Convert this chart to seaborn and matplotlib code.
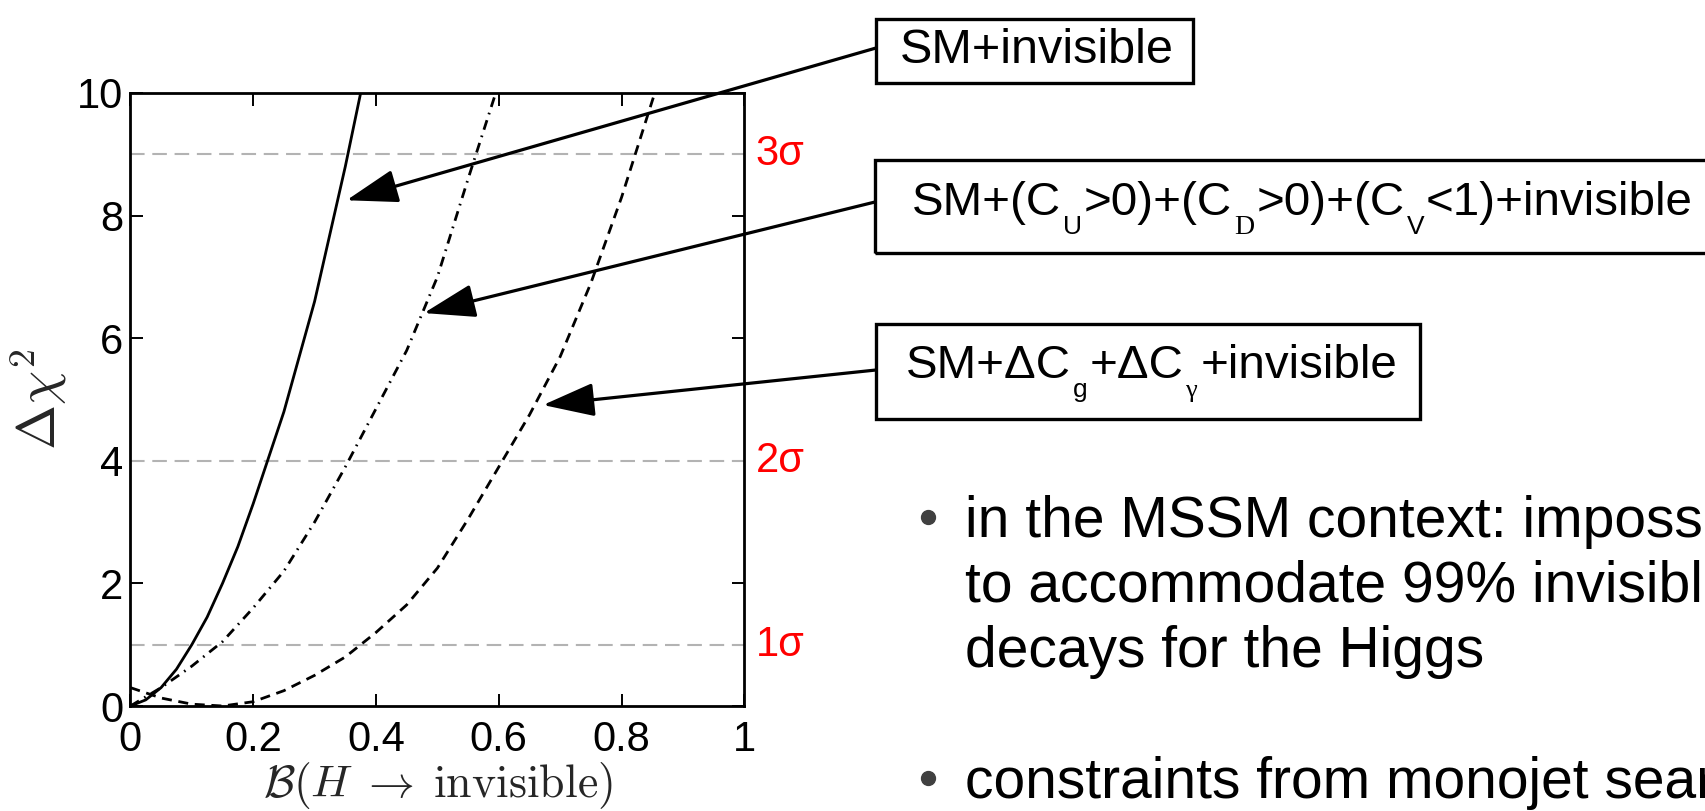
import numpy as np
import matplotlib
matplotlib.use("Agg")
import matplotlib.pyplot as plt
import seaborn as sns
from matplotlib.transforms import IdentityTransform
from matplotlib.patches import Rectangle
from matplotlib.lines import Line2D

# ---- data -------------------------------------------------------------
# SM + invisible
x_sm = [0.0, 0.025, 0.05, 0.075, 0.10, 0.125, 0.15, 0.175, 0.20, 0.25, 0.30, 0.35, 0.375]
y_sm = [0.0, 0.10, 0.30, 0.60, 1.00, 1.45, 2.00, 2.60, 3.30, 4.80, 6.60, 8.80, 10.0]

# SM + (C_U>0) + (C_D>0) + (C_V<1) + invisible
x_cuv = [0.0, 0.05, 0.10, 0.15, 0.20, 0.25, 0.30, 0.35, 0.40, 0.45, 0.50, 0.55, 0.595]
y_cuv = [0.0, 0.30, 0.65, 1.05, 1.60, 2.20, 3.00, 3.90, 4.85, 5.80, 7.00, 8.60, 10.0]

# SM + dC_g + dC_gamma + invisible
x_cg = [0.0, 0.05, 0.10, 0.15, 0.20, 0.25, 0.30, 0.35, 0.40, 0.45, 0.50,
        0.55, 0.60, 0.65, 0.70, 0.75, 0.80, 0.854]
y_cg = [0.30, 0.13, 0.03, 0.0, 0.07, 0.25, 0.50, 0.80, 1.20, 1.65, 2.25,
        3.05, 3.90, 4.75, 5.70, 6.90, 8.30, 10.0]

sigma_levels = [1, 4, 9]
sigma_labels = ["1σ", "2σ", "3σ"]

x_ticks = [0, 0.2, 0.4, 0.6, 0.8, 1.0]
x_tick_labels = ["0", "0.2", "0.4", "0.6", "0.8", "1"]
y_ticks = [0, 2, 4, 6, 8, 10]
y_tick_labels = ["0", "2", "4", "6", "8", "10"]

# arrow tips on the curves (B, delta chi^2)
tip_sm = (0.352, 8.25)
tip_cuv = (0.478, 6.41)
tip_cg = (0.672, 4.91)

bullet_lines = [
    ["in the MSSM context: impossible",
     "to accommodate 99% invisible",
     "decays for the Higgs"],
    ["constraints from monojet searches"],
]

# ---- style ------------------------------------------------------------
sns.set_theme(style="ticks")
plt.rcParams["font.family"] = ["Liberation Sans", "DejaVu Sans"]
plt.rcParams["mathtext.fontset"] = "cm"

W, H = 1706, 811
fig = plt.figure(figsize=(W / 100, H / 100), dpi=100, facecolor="white")

def top(y):
    return H - y

ax = fig.add_axes([130.4 / W, 1 - 706 / H, 614 / W, 613 / H])
ax.set_facecolor("white")

for lvl in sigma_levels:
    ax.axhline(lvl, color="#b3b3b3", lw=1.5, dashes=(7, 3.7), zorder=1)

LW = 2.0
sns.lineplot(x=x_sm, y=y_sm, ax=ax, color="black", lw=LW,
             sort=False, estimator=None, zorder=3)
sns.lineplot(x=x_cuv, y=y_cuv, ax=ax, color="black", lw=LW,
             sort=False, estimator=None, zorder=3,
             linestyle=(0, (3.6, 2.2, 0.6, 2.2)))
sns.lineplot(x=x_cg, y=y_cg, ax=ax, color="black", lw=LW,
             sort=False, estimator=None, zorder=3,
             linestyle=(0, (3.6, 2.4)))

ax.set_xlim(0, 1)
ax.set_ylim(0, 10)
ax.set_xticks(x_ticks)
ax.set_xticklabels(x_tick_labels)
ax.set_yticks(y_ticks)
ax.set_yticklabels(y_tick_labels)
ax.tick_params(axis="both", which="major", direction="in", length=9,
               width=1.4, labelsize=30, color="black", labelcolor="black",
               top=True, right=True)
ax.tick_params(axis="x", pad=10)
ax.tick_params(axis="y", pad=5)
for s in ax.spines.values():
    s.set_visible(True)
    s.set_linewidth(2.0)
    s.set_color("black")

ax.set_xlabel(r"$\mathcal{B}(H\;\rightarrow\;\mathrm{invisible})$",
              fontsize=33, labelpad=0, math_fontfamily="cm")
ax.set_ylabel(r"$\Delta\chi^2$", fontsize=39, labelpad=6,
              math_fontfamily="cm")

ytrans = ax.get_yaxis_transform()
for lvl, lab in zip(sigma_levels, sigma_labels):
    ax.text(1.018, lvl, lab, transform=ytrans, color="red", fontsize=30,
            ha="left", va="center", clip_on=False)

# ---- labelled boxes with arrows ---------------------------------------
sans = ["Liberation Sans", "DejaVu Sans"]
serif = ["Liberation Serif", "DejaVu Serif"]
renderer = fig.canvas.get_renderer()

def rich_text(x0, base_y, pieces):
    x = x0
    for s, size, drop, fam, gap in pieces:
        t = fig.text(x, top(base_y + drop), s, fontsize=size, family=fam,
                     ha="left", va="baseline", transform=IdentityTransform(),
                     color="black")
        x += t.get_window_extent(renderer).width + gap

def box(x0, y0, x1, y1):
    fig.add_artist(Rectangle((x0, top(y1)), x1 - x0, y1 - y0,
                             transform=IdentityTransform(), fill=False,
                             edgecolor="black", lw=2.4, clip_on=False))

FS, SUB = 35, 19

box(876, 19, 1193, 83)
rich_text(900, 63, [("SM+invisible", FS, 0, sans, 0)])

FS2 = 34.2
box(875, 160, 1720, 253)
rich_text(912, 215, [
    ("SM+(C", FS2, 0, sans, 2), ("U", SUB, 19, sans, 2),
    (">0)+(C", FS2, 0, sans, 2), ("D", SUB + 1, 19, serif, 2),
    (">0)+(C", FS2, 0, sans, 2), ("V", SUB, 19, sans, 2),
    ("<1)+invisible", FS2, 0, sans, 0),
])

box(876, 324, 1420, 419)
rich_text(906, 378, [
    ("SM+ΔC", FS2, 0, sans, 2), ("g", SUB, 19, sans, 2),
    ("+ΔC", FS2, 0, sans, 2), ("γ", SUB, 19, serif, 3),
    ("+invisible", FS2, 0, sans, 0),
])

arrow_kw = dict(arrowstyle="-|>,head_length=1.6,head_width=0.52",
                mutation_scale=20, lw=2.3, color="black",
                shrinkA=0, shrinkB=0)
for tip, start in [(tip_sm, (876, 48)), (tip_cuv, (875, 202)),
                   (tip_cg, (876, 370))]:
    ax.annotate("", xy=tip, xycoords="data",
                xytext=(start[0], top(start[1])), textcoords="figure pixels",
                arrowprops=arrow_kw, annotation_clip=False, zorder=5)

# ---- bullet notes -----------------------------------------------------
baselines = [[537, 602, 667], [798]]
for lines, bases in zip(bullet_lines, baselines):
    fig.add_artist(Line2D([928], [top(bases[0] - 20)], marker="o",
                          markersize=10, color="#404040", linestyle="none",
                          transform=IdentityTransform()))
    for line, b in zip(lines, bases):
        fig.text(965, top(b), line, fontsize=41, family=sans, ha="left",
                 va="baseline", transform=IdentityTransform(), color="black")

fig.savefig("out.png", dpi=100, facecolor="white")
